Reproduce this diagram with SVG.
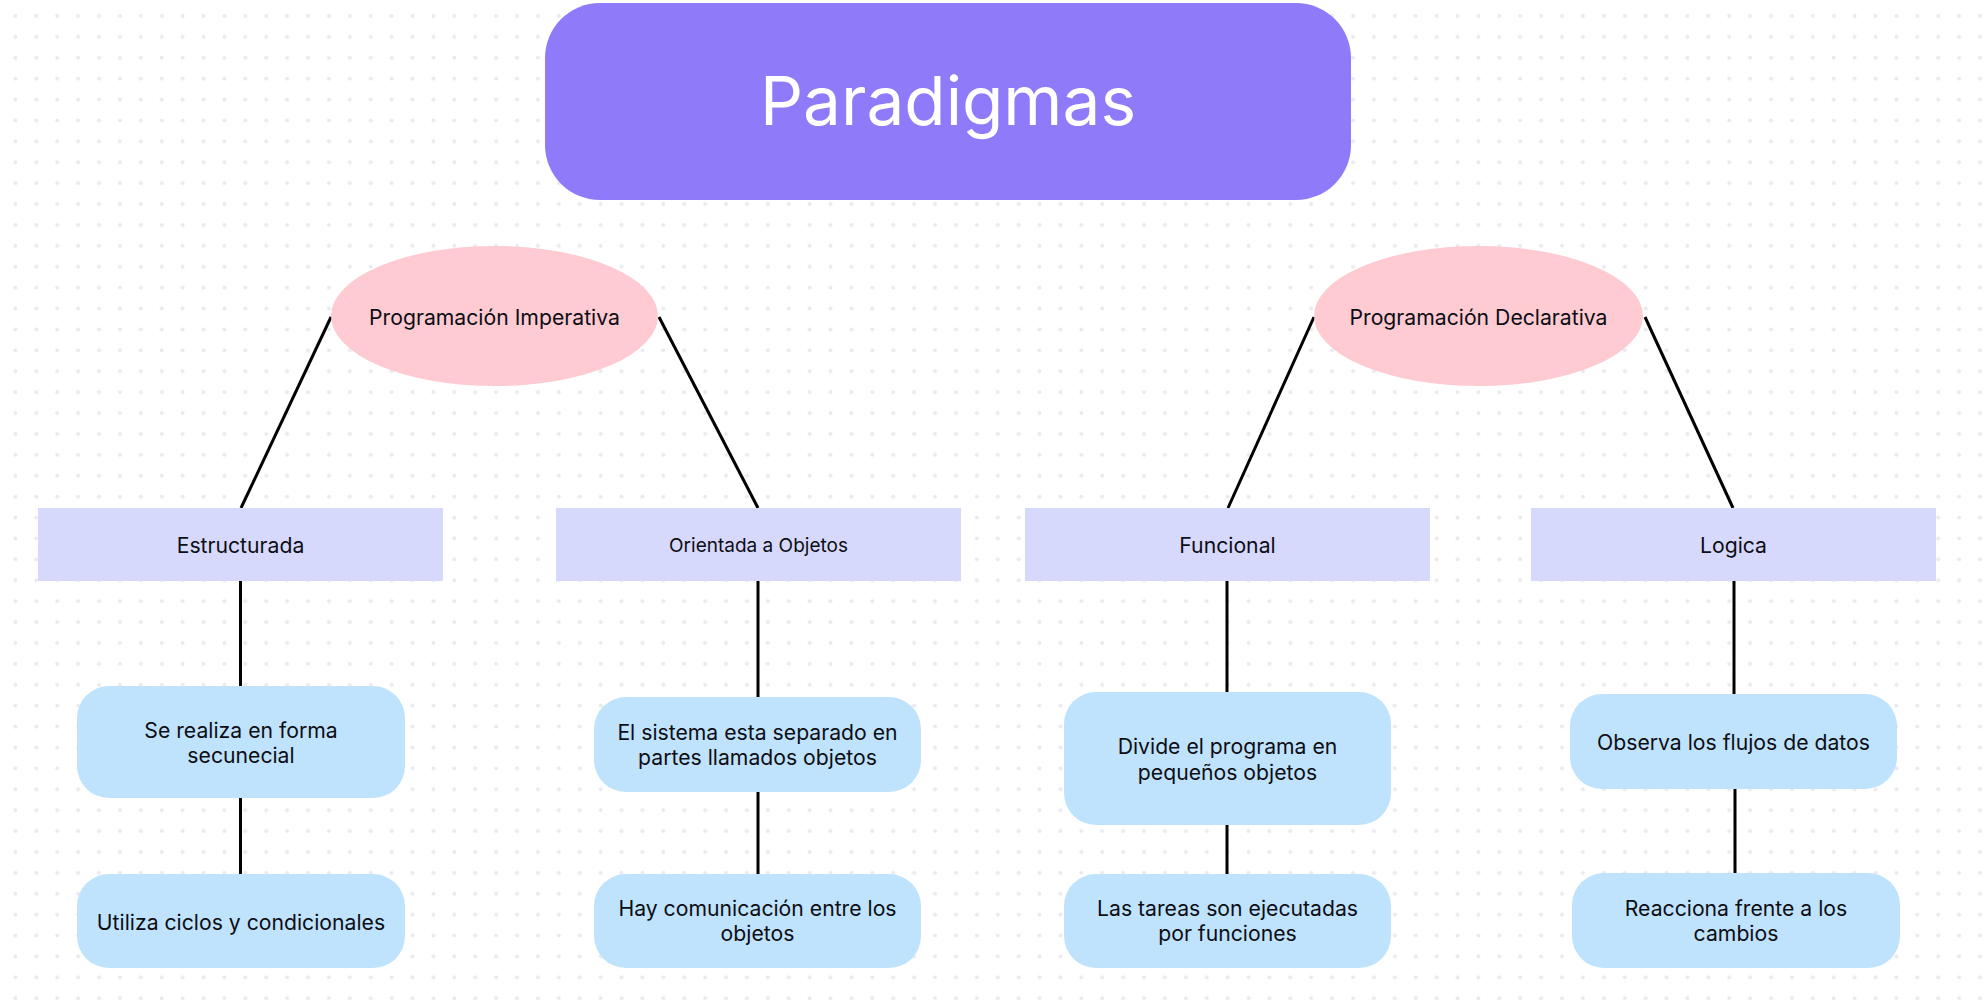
<svg xmlns="http://www.w3.org/2000/svg" width="1987" height="1005" viewBox="0 0 1987 1005">
<defs>
<pattern id="dots" patternUnits="userSpaceOnUse" x="5" y="5.5" width="20.9" height="20.9">
<circle cx="10.45" cy="10.45" r="2" fill="#e9e9ef"/>
</pattern>
<style>
.t{font-family:Inter,"DejaVu Sans",sans-serif;fill:#0d0d14;text-anchor:middle}
.n{font-size:21.2px}
.s{font-size:19px}
.title{font-family:Inter,"DejaVu Sans",sans-serif;font-size:67.5px;fill:#fff;text-anchor:middle}
.ell{fill:#fdcbd1}
.cat{fill:#d7d9fc}
.leaf{fill:#bfe3fd}
.c line{stroke:#000;stroke-width:3;stroke-linecap:butt}
</style>
</defs>
<rect width="1987" height="1005" fill="#fff"/>
<rect width="1987" height="1005" fill="url(#dots)"/>
<g class="c" id="connectors">
<line x1="331" y1="317" x2="241" y2="508"/>
<line x1="659" y1="317" x2="758" y2="508"/>
<line x1="1314" y1="317" x2="1228" y2="508"/>
<line x1="1645" y1="317" x2="1733" y2="508"/>
<line x1="240.5" y1="581" x2="240.5" y2="686"/>
<line x1="240.5" y1="798" x2="240.5" y2="874"/>
<line x1="758" y1="581" x2="758" y2="697"/>
<line x1="758" y1="792" x2="758" y2="874"/>
<line x1="1227" y1="581" x2="1227" y2="692"/>
<line x1="1227" y1="825" x2="1227" y2="874"/>
<line x1="1734" y1="581" x2="1734" y2="694"/>
<line x1="1735" y1="789" x2="1735" y2="873"/>
</g>
<g id="title">
<rect x="545" y="3" width="806" height="197" rx="55" fill="#8f7af9"/>
<text class="title" x="948" y="125">Paradigmas</text>
</g>
<g id="imperativa">
<ellipse class="ell" cx="494.5" cy="316" rx="163.5" ry="70"/>
<text class="t n" x="494.5" y="325">Programación Imperativa</text>
</g>
<g id="declarativa">
<ellipse class="ell" cx="1478.5" cy="316" rx="164.5" ry="70"/>
<text class="t n" x="1478.5" y="325">Programación Declarativa</text>
</g>
<g id="estructurada">
<rect class="cat" x="38" y="508" width="405" height="73"/>
<text class="t n" x="240.5" y="552.5">Estructurada</text>
</g>
<g id="objetos">
<rect class="cat" x="556" y="508" width="405" height="73"/>
<text class="t s" x="758.5" y="552">Orientada a Objetos</text>
</g>
<g id="funcional">
<rect class="cat" x="1025" y="508" width="405" height="73"/>
<text class="t n" x="1227.5" y="552.5">Funcional</text>
</g>
<g id="logica">
<rect class="cat" x="1531" y="508" width="405" height="73"/>
<text class="t n" x="1733.5" y="552.5">Logica</text>
</g>
<g id="secuencial">
<rect class="leaf" x="77" y="686" width="328" height="112" rx="32"/>
<text class="t n" x="241" y="737.5">Se realiza en forma</text>
<text class="t n" x="241" y="762.5">secunecial</text>
</g>
<g id="ciclos">
<rect class="leaf" x="77" y="874" width="328" height="94" rx="32"/>
<text class="t n" x="241" y="929.5">Utiliza ciclos y condicionales</text>
</g>
<g id="sistema">
<rect class="leaf" x="594" y="697" width="327" height="95" rx="32"/>
<text class="t n" x="757.5" y="740">El sistema esta separado en</text>
<text class="t n" x="757.5" y="765">partes llamados objetos</text>
</g>
<g id="comunicacion">
<rect class="leaf" x="594" y="874" width="327" height="94" rx="32"/>
<text class="t n" x="757.5" y="916">Hay comunicación entre los</text>
<text class="t n" x="757.5" y="941">objetos</text>
</g>
<g id="divide">
<rect class="leaf" x="1064" y="692" width="327" height="133" rx="32"/>
<text class="t n" x="1227.5" y="754">Divide el programa en</text>
<text class="t n" x="1227.5" y="780">pequeños objetos</text>
</g>
<g id="tareas">
<rect class="leaf" x="1064" y="874" width="327" height="94" rx="32"/>
<text class="t n" x="1227.5" y="916">Las tareas son ejecutadas</text>
<text class="t n" x="1227.5" y="941">por funciones</text>
</g>
<g id="flujos">
<rect class="leaf" x="1570" y="694" width="327" height="95" rx="32"/>
<text class="t n" x="1733.5" y="749.5">Observa los flujos de datos</text>
</g>
<g id="reacciona">
<rect class="leaf" x="1572" y="873" width="328" height="95" rx="32"/>
<text class="t n" x="1736" y="916">Reacciona frente a los</text>
<text class="t n" x="1736" y="941">cambios</text>
</g>
</svg>
